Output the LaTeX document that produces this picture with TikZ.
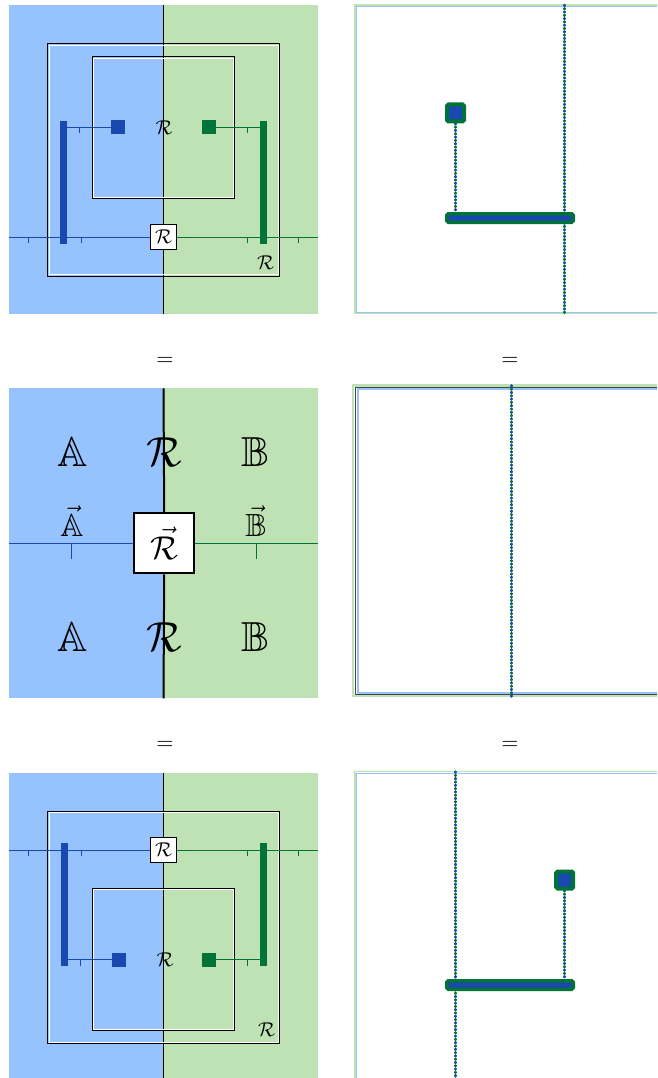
\documentclass[tikz,border=0pt]{standalone}
\usepackage{amssymb}
\usepackage{graphicx}
\usetikzlibrary{backgrounds}
\DeclareFontShape{OMS}{cmsy}{m}{n}{<-6>cmsy5<6-7>cmsy6<7-8>cmsy7<8-9>cmsy8<9-10>cmsy9<10->cmsy10}{}
\DeclareFontShape{OML}{cmm}{m}{it}{<-6>cmmi5<6-7>cmmi6<7-8>cmmi7<8-9>cmmi8<9-10>cmmi9<10-12>cmmi10<12->cmmi12}{}
\DeclareFontShape{OT1}{cmr}{m}{n}{<-6>cmr5<6-7>cmr6<7-8>cmr7<8-9>cmr8<9-10>cmr9<10-12>cmr10<12-17>cmr12<17->cmr17}{}
\definecolor{lblue}{RGB}{150,195,253}
\definecolor{lgreen}{RGB}{190,226,180}
\definecolor{dblue}{RGB}{25,72,176}
\definecolor{dgreen}{RGB}{0,115,56}
\definecolor{dgray}{RGB}{70,70,70}
\begin{document}
\begin{tikzpicture}[x=1pt,y=-1pt,
  frameblk/.style={draw=black,line width=0.9pt},
  framewht/.style={draw=white,line width=0.9pt},
  bthin/.style={draw=dblue,line width=1pt},
  gthin/.style={draw=dgreen,line width=1pt},
  bbar/.style={fill=dblue,inner sep=0pt,minimum width=7pt,minimum height=123.3pt},
  gbar/.style={fill=dgreen,inner sep=0pt,minimum width=7pt,minimum height=123.3pt},
  bsq/.style={fill=dblue,inner sep=0pt,minimum size=13.7pt},
  gsq/.style={fill=dgreen,inner sep=0pt,minimum size=13.7pt},
  rlab/.style={inner sep=0pt,font=\fontsize{20}{24}\selectfont},
  rbox/.style={draw=black,fill=white,line width=0.8pt,inner sep=0pt,minimum size=25.5pt,font=\fontsize{20}{24}\selectfont},
  biglab/.style={inner sep=0pt,font=\fontsize{42}{48}\selectfont},
  midlab/.style={inner sep=0pt,font=\fontsize{32}{38}\selectfont},
  bigbox/.style={draw=black,fill=white,line width=2pt,inner sep=0pt,minimum size=60pt,font=\fontsize{33}{40}\selectfont},
  eqlab/.style={inner sep=0pt},
  dotline/.style={line width=2.6pt,line cap=round,draw=dgreen,dash pattern=on 0.8pt off 5.8pt,dash phase=3.3pt,
    preaction={draw=dblue,line width=2.6pt,line cap=round,dash pattern=on 0.8pt off 5.8pt,dash phase=0pt}},
  rsq/.style={draw=dgreen,fill=dblue,line width=4pt,minimum size=17pt,inner sep=0pt,rounded corners=1.5pt},
  rbar/.style={draw=dgreen,fill=dblue,line width=3.5pt,minimum width=126.5pt,minimum height=8.5pt,inner sep=0pt,rounded corners=1.5pt},
]
\useasboundingbox (0,0) rectangle (657,1078);
\clip (0,0) rectangle (657,1078);

% ================= TOP LEFT =================
\fill[lblue] (9,5) rectangle (163.5,314);
\fill[lgreen] (163.5,5) rectangle (318,314);
\draw[line width=0.8pt] (163.5,5) -- (163.5,314);
\draw[frameblk] (47.7,43.7) rectangle (279.3,276);
\draw[framewht] (49,45) rectangle (278,274.7);
\draw[frameblk] (92.3,56.7) rectangle (234.7,198.7);
\draw[framewht] (93.6,58) rectangle (233.4,197.4);
\node[rbox] (r1) at (163.5,237) {$\mathcal{R}$};
\coordinate (aL1) at (9,237);
\coordinate (aR1) at (318,237);
\draw[bthin] (aL1) -- (r1.west);
\draw[gthin] (r1.east) -- (aR1);
\draw[bthin] (28,237) -- ++(0,6);
\draw[bthin] (81,237) -- ++(0,6);
\draw[gthin] (247.5,237) -- ++(0,6);
\draw[gthin] (298.3,237) -- ++(0,6);
\node[bsq] (bs1) at (118.3,127.3) {};
\node[gsq] (gs1) at (208.7,127.3) {};
\node[bbar] (bb1) at (63.3,182.3) {};
\node[gbar] (gb1) at (263.3,182.3) {};
\draw[bthin] (bb1.center |- bs1.west) -- (bs1.west);
\draw[gthin] (gs1.east) -- (gb1.center |- gs1.east);
\draw[bthin] (79.5,127.3) -- ++(0,6);
\draw[gthin] (247,127.3) -- ++(0,6);
\node[rlab] (rc1) at (164,128) {$\mathcal{R}$};
\node[rlab] (rr1) at (265.7,262.3) {$\mathcal{R}$};

\node[eqlab] (eq1) at (165,361) {\scalebox{2.2}{$=$}};
\node[eqlab] (eq2) at (510,361) {\scalebox{2.2}{$=$}};

% ================= MIDDLE LEFT =================
\fill[lblue] (9,388.3) rectangle (163.5,698.3);
\fill[lgreen] (163.5,388.3) rectangle (318,698.3);
\node[bigbox] (rv) at (164.2,543.3) {$\vec{\mathcal{R}}$};
\coordinate (mt) at (163.5,388.3);
\coordinate (mb) at (163.5,698.3);
\coordinate (mL) at (9,543.3);
\coordinate (mR) at (318,543.3);
\draw[line width=2pt] (mt) -- (rv.north);
\draw[line width=2pt] (rv.south) -- (mb);
\draw[dblue,line width=1.5pt] (mL) -- (rv.west);
\draw[dgreen,line width=1.5pt] (rv.east) -- (mR);
\draw[dblue,line width=1.5pt] (71.7,543.3) -- (71.7,559);
\draw[dgreen,line width=1.5pt] (256.7,543.3) -- (256.7,559);
\node[biglab] (A1) at (72.7,451.7) {$\mathbb{A}$};
\node[biglab] (R1) at (164,451.7) {$\mathcal{R}$};
\node[biglab] (B1) at (255.7,451.7) {$\mathbb{B}$};
\node[midlab] (vA) at (72,521) {$\vec{\mathbb{A}}$};
\node[midlab] (vB) at (256,521) {$\vec{\mathbb{B}}$};
\node[biglab] (A2) at (72.7,636.7) {$\mathbb{A}$};
\node[biglab] (R2) at (164,636.7) {$\mathcal{R}$};
\node[biglab] (B2) at (255.7,636.7) {$\mathbb{B}$};

\node[eqlab] (eq3) at (165,745) {\scalebox{2.2}{$=$}};
\node[eqlab] (eq4) at (510,745) {\scalebox{2.2}{$=$}};

% ================= BOTTOM LEFT =================
\fill[lblue] (9,773) rectangle (163.5,1082);
\fill[lgreen] (163.5,773) rectangle (318,1082);
\draw[line width=0.8pt] (163.5,773) -- (163.5,1082);
\draw[frameblk] (47.7,811) rectangle (279.3,1043.3);
\draw[framewht] (49,812.3) rectangle (278,1042);
\draw[frameblk] (92.3,888.3) rectangle (234.7,1030.3);
\draw[framewht] (93.6,889.6) rectangle (233.4,1029);
\node[rbox] (r3) at (163.5,850) {$\mathcal{R}$};
\coordinate (aL3) at (9,850);
\coordinate (aR3) at (318,850);
\draw[bthin] (aL3) -- (r3.west);
\draw[gthin] (r3.east) -- (aR3);
\draw[bthin] (28.5,850) -- ++(0,6);
\draw[bthin] (81.5,850) -- ++(0,6);
\draw[gthin] (247.7,850) -- ++(0,6);
\draw[gthin] (298.3,850) -- ++(0,6);
\node[bsq] (bs3) at (118.8,959.7) {};
\node[gsq] (gs3) at (209,959.7) {};
\node[bbar] (bb3) at (64,904.7) {};
\node[gbar] (gb3) at (263.5,904.7) {};
\draw[bthin] (bb3.center |- bs3.west) -- (bs3.west);
\draw[gthin] (gs3.east) -- (gb3.center |- gs3.east);
\draw[bthin] (80.8,959.7) -- ++(0,6);
\draw[gthin] (247.5,959.7) -- ++(0,6);
\node[rlab] (rc3) at (165,960) {$\mathcal{R}$};
\node[rlab] (rr3) at (266.5,1030) {$\mathcal{R}$};

% ================= TOP RIGHT =================
\draw[draw=lgreen,line width=1.3pt] (355,5) rectangle (700,313.5);
\draw[draw=lblue,line width=1.1pt] (356.4,6.4) rectangle (700,312.1);
\coordinate (t2) at (564.3,5);
\coordinate (u2) at (564.3,313.5);
\draw[dotline] (t2) -- (u2);
\node[rsq] (s2) at (455.5,113) {};
\node[rbar] (b2) at (510,218) {};
\begin{pgfonlayer}{background}
\draw[dotline] (s2.south) -- (s2.south |- b2.north);
\end{pgfonlayer}

% ================= MIDDLE RIGHT =================
\draw[draw=lgreen,line width=2.5pt] (353,385.5) rectangle (700,696);
\draw[draw=dgray,line width=1pt] (355.5,387.3) rectangle (700,694.3);
\draw[draw=lblue,line width=2pt] (357.6,389.2) rectangle (700,692.5);
\coordinate (t4) at (511.7,385.5);
\coordinate (u4) at (511.7,697);
\draw[dotline] (t4) -- (u4);

% ================= BOTTOM RIGHT =================
\draw[draw=lgreen,line width=1.3pt] (355,771.7) rectangle (700,1100);
\draw[draw=lblue,line width=1.1pt] (356.4,773.1) rectangle (700,1100);
\coordinate (t6) at (455.3,771.7);
\coordinate (u6) at (455.3,1080);
\draw[dotline] (t6) -- (u6);
\node[rsq] (s6) at (564.7,880) {};
\node[rbar] (b6) at (510,985) {};
\begin{pgfonlayer}{background}
\draw[dotline] (s6.south) -- (s6.south |- b6.north);
\end{pgfonlayer}
\end{tikzpicture}
\end{document}
